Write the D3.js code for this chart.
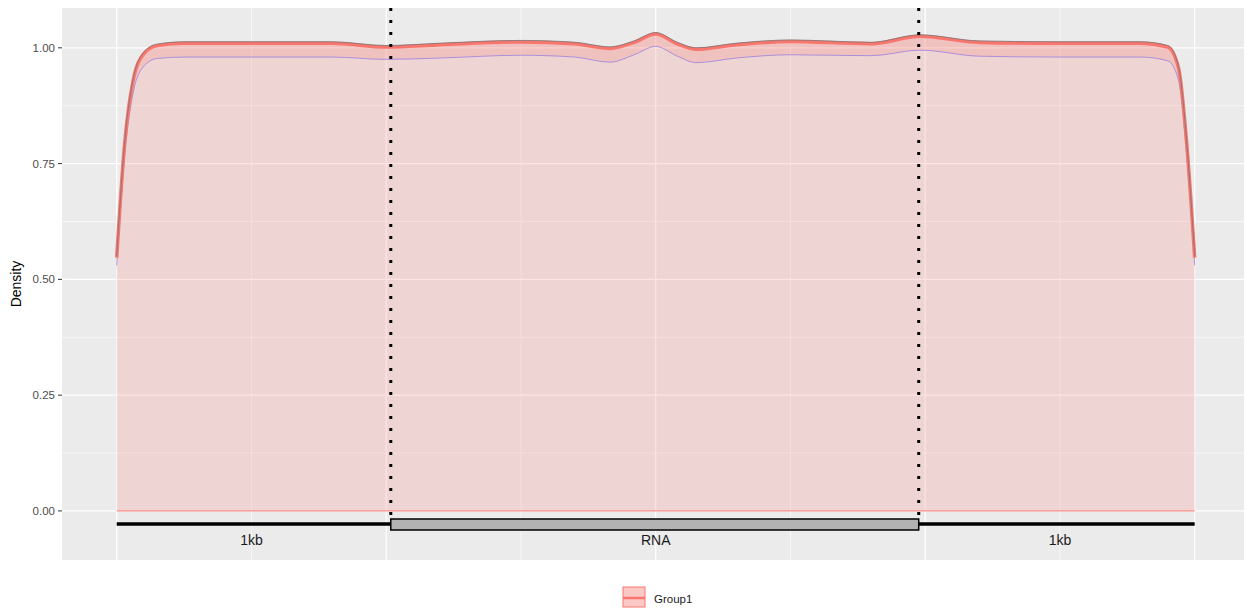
<!DOCTYPE html>
<html><head><meta charset="utf-8">
<script src="https://cdn.jsdelivr.net/npm/d3@7"></script>
<style>body{margin:0;background:#fff;font-family:"Liberation Sans",Arial,sans-serif}</style>
</head><body><svg id="c" width="1246" height="609"></svg>
<script>
// positions along the meta-gene (0-1 upstream, 1-3 RNA, 3-4 downstream)
const pos = [0, 0.03, 0.06, 0.1, 0.15, 0.25, 0.5, 0.8, 1.0, 1.2, 1.5, 1.7, 1.83, 1.92, 2.0, 2.08, 2.15, 2.3, 2.5, 2.8, 2.98, 3.2, 3.5, 3.8, 3.9, 3.94, 3.97, 4.0];
const upper = [0.55, 0.80, 0.93, 0.99, 1.008, 1.013, 1.013, 1.013, 1.005, 1.01, 1.016, 1.012, 1.002, 1.015, 1.033, 1.012, 1.0, 1.01, 1.017, 1.012, 1.028, 1.015, 1.013, 1.013, 1.005, 0.96, 0.80, 0.55];
const lower = [0.53, 0.77, 0.90, 0.96, 0.977, 0.98, 0.98, 0.98, 0.975, 0.978, 0.984, 0.98, 0.969, 0.985, 1.003, 0.982, 0.968, 0.978, 0.985, 0.983, 0.995, 0.982, 0.98, 0.98, 0.972, 0.93, 0.77, 0.53];
const yTicks = [0, 0.25, 0.5, 0.75, 1.0];
const xMajor = [0, 1, 2, 3, 4];
const xMinor = [0.5, 1.5, 2.5, 3.5];
const regions = [{label: "1kb", mid: 0.5}, {label: "RNA", mid: 2}, {label: "1kb", mid: 3.5}];
const rnaStart = 1.017, rnaEnd = 2.976;

const svg = d3.select("#c");
const x = d3.scaleLinear().domain([-0.203, 4.183]).range([62, 1244]);
const y = d3.scaleLinear().domain([-0.106, 1.086]).range([560, 8]);
const pts = pos.map((p, i) => ({p, u: upper[i], l: lower[i]}));

svg.append("rect").attr("x", 62).attr("y", 8).attr("width", 1182).attr("height", 552).attr("fill", "#ebebeb");
// grid
const minorY = [0.125, 0.375, 0.625, 0.875];
svg.selectAll(".gmy").data(minorY).enter().append("line")
    .attr("x1", 62).attr("x2", 1244).attr("y1", d => y(d)).attr("y2", d => y(d))
    .attr("stroke", "#fff").attr("stroke-width", 0.6);
svg.selectAll(".gmx").data(xMinor).enter().append("line")
    .attr("y1", 8).attr("y2", 560).attr("x1", d => x(d)).attr("x2", d => x(d))
    .attr("stroke", "#fff").attr("stroke-width", 0.6);
svg.selectAll(".gy").data(yTicks).enter().append("line")
    .attr("x1", 62).attr("x2", 1244).attr("y1", d => y(d)).attr("y2", d => y(d))
    .attr("stroke", "#fff").attr("stroke-width", 1.2);
svg.selectAll(".gx").data(xMajor).enter().append("line")
    .attr("y1", 8).attr("y2", 560).attr("x1", d => x(d)).attr("x2", d => x(d))
    .attr("stroke", "#fff").attr("stroke-width", 1.2);

const curve = d3.curveMonotoneX;
// area under curve
svg.append("path").datum(pts)
    .attr("d", d3.area().curve(curve).x(d => x(d.p)).y0(y(0)).y1(d => y(d.l)))
    .attr("fill", "rgba(248,118,109,0.2)");
// ribbon
svg.append("path").datum(pts)
    .attr("d", d3.area().curve(curve).x(d => x(d.p)).y0(d => y(d.l)).y1(d => y(d.u)))
    .attr("fill", "rgba(248,118,109,0.35)");
svg.append("line").attr("x1", x(0)).attr("x2", x(4)).attr("y1", y(0)).attr("y2", y(0))
    .attr("stroke", "#F8766D").attr("stroke-width", 1);
svg.append("path").datum(pts)
    .attr("d", d3.line().curve(curve).x(d => x(d.p)).y(d => y(d.l)))
    .attr("fill", "none").attr("stroke", "#9b7fe0").attr("stroke-width", 0.8);
svg.append("path").datum(pts)
    .attr("d", d3.line().curve(curve).x(d => x(d.p)).y(d => y(d.u)))
    .attr("fill", "none").attr("stroke", "#F8766D").attr("stroke-width", 3.5)
    .attr("transform", "translate(0,1.5)");
svg.append("path").datum(pts)
    .attr("d", d3.line().curve(curve).x(d => x(d.p)).y(d => y(d.u)))
    .attr("fill", "none").attr("stroke", "#777").attr("stroke-width", 0.8);

// dotted boundaries
[rnaStart, rnaEnd].forEach(v => svg.append("line")
    .attr("x1", x(v)).attr("x2", x(v)).attr("y1", 8).attr("y2", 519)
    .attr("stroke", "#000").attr("stroke-width", 3).attr("stroke-dasharray", "3,9"));

// gene model
svg.append("line").attr("x1", x(0)).attr("x2", x(4)).attr("y1", 524).attr("y2", 524)
    .attr("stroke", "#000").attr("stroke-width", 3.5);
svg.append("rect").attr("x", x(rnaStart)).attr("y", 519).attr("width", x(rnaEnd) - x(rnaStart)).attr("height", 11)
    .attr("fill", "#b3b3b3").attr("stroke", "#000").attr("stroke-width", 1.5);
svg.selectAll(".rl").data(regions).enter().append("text")
    .attr("x", d => x(d.mid)).attr("y", 545).attr("text-anchor", "middle")
    .attr("font-size", 14).attr("fill", "#1a1a1a").text(d => d.label);

// axes
svg.selectAll(".yt").data(yTicks).enter().append("text")
    .attr("x", 55).attr("y", d => y(d) + 4).attr("text-anchor", "end")
    .attr("font-size", 11.5).attr("fill", "#4d4d4d").text(d => d.toFixed(2));
svg.selectAll(".ytk").data(yTicks).enter().append("line")
    .attr("x1", 58).attr("x2", 62).attr("y1", d => y(d)).attr("y2", d => y(d)).attr("stroke", "#333");
svg.append("text").attr("transform", "translate(21,284) rotate(-90)").attr("text-anchor", "middle")
    .attr("font-size", 14).text("Density");

// legend
svg.append("rect").attr("x", 623).attr("y", 587).attr("width", 22).attr("height", 20)
    .attr("fill", "rgba(248,118,109,0.4)").attr("stroke", "#F8766D").attr("stroke-width", 1);
svg.append("line").attr("x1", 623).attr("x2", 645).attr("y1", 598).attr("y2", 598)
    .attr("stroke", "#F8766D").attr("stroke-width", 2.5);
svg.append("text").attr("x", 654).attr("y", 603).attr("font-size", 11.5).attr("fill", "#1a1a1a").text("Group1");
</script></body></html>
